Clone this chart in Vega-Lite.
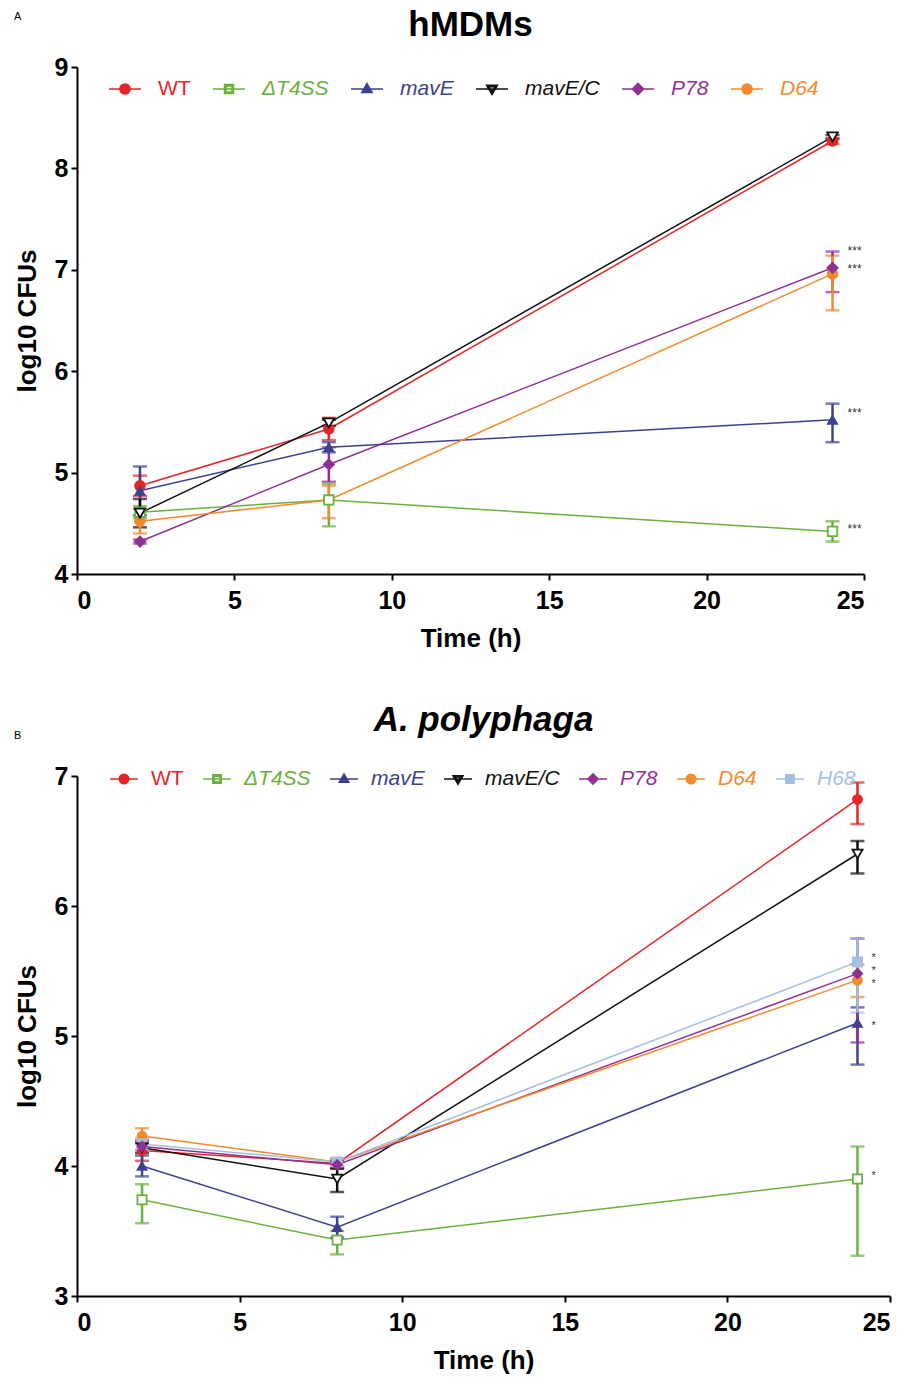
{
  "$schema": "https://vega.github.io/schema/vega-lite/v6.json",
  "background": "white",
  "padding": {"left": 14, "top": 8, "right": 8, "bottom": 2},
  "config": {
    "font": "Liberation Sans",
    "view": {"stroke": null},
    "axis": {
      "grid": false,
      "domainColor": "black",
      "domainWidth": 2,
      "tickColor": "black",
      "tickWidth": 2,
      "tickSize": 6,
      "labelFont": "Liberation Sans",
      "labelFontWeight": "bold",
      "labelFontSize": 25,
      "labelColor": "black",
      "labelPadding": 3,
      "titleFont": "Liberation Sans",
      "titleFontWeight": "bold",
      "titleFontSize": 26,
      "titleColor": "black"
    },
    "title": {"color": "black", "font": "Liberation Sans"}
  },
  "datasets": {
    "hmdm": [
      {"series": "WT", "t": 2, "y": 4.87, "lo": 4.77, "hi": 4.97},
      {"series": "WT", "t": 8, "y": 5.43, "lo": 5.32, "hi": 5.54},
      {"series": "WT", "t": 24, "y": 8.27, "lo": 8.24, "hi": 8.30},
      {"series": "ΔT4SS", "t": 2, "y": 4.61, "lo": 4.55, "hi": 4.67},
      {"series": "ΔT4SS", "t": 8, "y": 4.73, "lo": 4.47, "hi": 4.89},
      {"series": "ΔT4SS", "t": 24, "y": 4.42, "lo": 4.32, "hi": 4.52},
      {"series": "mavE", "t": 2, "y": 4.82, "lo": 4.58, "hi": 5.06},
      {"series": "mavE", "t": 8, "y": 5.25, "lo": 5.2, "hi": 5.3},
      {"series": "mavE", "t": 24, "y": 5.52, "lo": 5.30, "hi": 5.68},
      {"series": "mavE/C", "t": 2, "y": 4.6, "lo": 4.46, "hi": 4.74},
      {"series": "mavE/C", "t": 8, "y": 5.49, "lo": 5.46, "hi": 5.52},
      {"series": "mavE/C", "t": 24, "y": 8.31, "lo": 8.29, "hi": 8.33},
      {"series": "P78", "t": 2, "y": 4.32, "lo": 4.3, "hi": 4.34},
      {"series": "P78", "t": 8, "y": 5.08, "lo": 4.91, "hi": 5.25},
      {"series": "P78", "t": 24, "y": 7.02, "lo": 6.78, "hi": 7.18},
      {"series": "D64", "t": 2, "y": 4.52, "lo": 4.4, "hi": 4.64},
      {"series": "D64", "t": 8, "y": 4.73, "lo": 4.55, "hi": 4.87},
      {"series": "D64", "t": 24, "y": 6.96, "lo": 6.6, "hi": 7.14}
    ],
    "hmdmStars": [
      {"t": 24.7, "y": 7.19, "star": "***"},
      {"t": 24.7, "y": 7.01, "star": "***"},
      {"t": 24.7, "y": 5.59, "star": "***"},
      {"t": 24.7, "y": 4.44, "star": "***"}
    ],
    "amoeba": [
      {"series": "WT", "t": 2, "y": 4.12, "lo": 4.04, "hi": 4.2},
      {"series": "WT", "t": 8, "y": 4.02, "lo": 3.99, "hi": 4.05},
      {"series": "WT", "t": 24, "y": 6.82, "lo": 6.63, "hi": 6.95},
      {"series": "ΔT4SS", "t": 2, "y": 3.74, "lo": 3.56, "hi": 3.86},
      {"series": "ΔT4SS", "t": 8, "y": 3.43, "lo": 3.32, "hi": 3.5},
      {"series": "ΔT4SS", "t": 24, "y": 3.9, "lo": 3.31, "hi": 4.15},
      {"series": "mavE", "t": 2, "y": 4.0, "lo": 3.92, "hi": 4.08},
      {"series": "mavE", "t": 8, "y": 3.53, "lo": 3.45, "hi": 3.61},
      {"series": "mavE", "t": 24, "y": 5.1, "lo": 4.78, "hi": 5.22},
      {"series": "mavE/C", "t": 2, "y": 4.14, "lo": 4.1, "hi": 4.18},
      {"series": "mavE/C", "t": 8, "y": 3.9, "lo": 3.8, "hi": 3.98},
      {"series": "mavE/C", "t": 24, "y": 6.4, "lo": 6.25, "hi": 6.5},
      {"series": "P78", "t": 2, "y": 4.15, "lo": 4.12, "hi": 4.18},
      {"series": "P78", "t": 8, "y": 4.01, "lo": 3.98, "hi": 4.04},
      {"series": "P78", "t": 24, "y": 5.48, "lo": 4.95, "hi": 5.75},
      {"series": "D64", "t": 2, "y": 4.23, "lo": 4.17, "hi": 4.29},
      {"series": "D64", "t": 8, "y": 4.03, "lo": 4.0, "hi": 4.06},
      {"series": "D64", "t": 24, "y": 5.43, "lo": 5.3, "hi": 5.55},
      {"series": "H68", "t": 2, "y": 4.17, "lo": 4.12, "hi": 4.22},
      {"series": "H68", "t": 8, "y": 4.03, "lo": 4.0, "hi": 4.06},
      {"series": "H68", "t": 24, "y": 5.57, "lo": 5.18, "hi": 5.75}
    ],
    "amoebaStars": [
      {"t": 24.5, "y": 5.6, "star": "*"},
      {"t": 24.5, "y": 5.5, "star": "*"},
      {"t": 24.5, "y": 5.4, "star": "*"},
      {"t": 24.5, "y": 5.08, "star": "*"},
      {"t": 24.5, "y": 3.92, "star": "*"}
    ]
  },
  "spacing": 52,
  "vconcat": [
    {
      "title": {"text": "A", "anchor": "start", "fontSize": 11, "fontWeight": "normal", "offset": -14},
      "vconcat": [
        {
          "width": 787,
          "height": 507,
          "title": {"text": "hMDMs", "fontSize": 35, "fontWeight": "bold", "anchor": "middle", "offset": 12},
          "data": {"name": "hmdm"},
          "encoding": {
            "x": {"field": "t", "type": "quantitative", "scale": {"domain": [0, 25], "nice": false}, "axis": {"values": [0, 5, 10, 15, 20, 25], "title": "Time (h)", "labelPadding": 8, "titlePadding": 12}},
            "y": {"field": "y", "type": "quantitative", "scale": {"domain": [4, 9], "nice": false, "zero": false}, "axis": {"values": [4, 5, 6, 7, 8, 9], "format": "d", "title": "log10 CFUs", "titlePadding": 14}}
          },
          "layer": [
            {
              "mark": {"type": "line", "strokeWidth": 1.5},
              "encoding": {
                "color": {
                  "field": "series", "type": "nominal",
                  "scale": {"domain": ["WT", "ΔT4SS", "mavE", "mavE/C", "P78", "D64"], "range": ["#E3262A", "#6AB23F", "#3D418F", "#111111", "#8F3194", "#F28A2E"]},
                  "legend": {
                    "orient": "none", "legendX": 31, "legendY": 5, "direction": "horizontal", "title": null,
                    "symbolSize": 1024, "symbolStrokeWidth": 1.5, "symbolOpacity": 1, "labelFontSize": 21, "labelOffset": 16, "columnPadding": 19, "labelFont": "Liberation Sans",
                    "encode": {"labels": {"update": {
                      "fill": {"signal": "['#E3262A','#6AB23F','#3D418F','#111111','#8F3194','#F28A2E','#A5BFE0'][indexof(['WT','ΔT4SS','mavE','mavE/C','P78','D64','H68'], datum.value)]"},
                      "fontStyle": {"signal": "datum.value === 'WT' ? 'normal' : 'italic'"}
                    }}}
                  }
                }
              }
            },
            {
              "mark": {"type": "errorbar", "thickness": 2.5, "ticks": {"size": 14, "thickness": 2.5}},
              "encoding": {
                "y": {"field": "lo", "type": "quantitative", "title": "log10 CFUs"},
                "y2": {"field": "hi"},
                "color": {"field": "series", "type": "nominal", "legend": null}
              }
            },
            {
              "mark": {"type": "point", "opacity": 0, "size": 4},
              "encoding": {
                "shape": {"field": "series", "type": "nominal",
                  "scale": {"domain": ["WT", "ΔT4SS", "mavE", "mavE/C", "P78", "D64"], "range": [
                    "M-1,0H1M0.32,0A0.32,0.32,0,1,1,-0.32,0A0.32,0.32,0,1,1,0.32,0Z",
                    "M-1,0H1M-0.28,-0.28H0.28V0.28H-0.28ZM-0.18,-0.18V0.18H0.18V-0.18Z",
                    "M-1,0H1M0,-0.34L0.32,0.22H-0.32Z",
                    "M-1,0H1M-0.34,-0.23L0.34,-0.23L0,0.35ZM-0.19,-0.14L0,0.19L0.19,-0.14Z",
                    "M-1,0H1M0,-0.35L0.35,0L0,0.35L-0.35,0Z",
                    "M-1,0H1M0.32,0A0.32,0.32,0,1,1,-0.32,0A0.32,0.32,0,1,1,0.32,0Z"]},
                  "legend": null
                }
              }
            },
            {
              "transform": [{"filter": {"field": "series", "oneOf": ["WT", "D64"]}}],
              "mark": {"type": "point", "shape": "circle", "size": 100, "strokeWidth": 1.6, "opacity": 1},
              "encoding": {
                "stroke": {"field": "series", "type": "nominal", "scale": {"domain": ["WT", "ΔT4SS", "mavE", "mavE/C", "P78", "D64"], "range": ["#E3262A", "#6AB23F", "#3D418F", "#111111", "#8F3194", "#F28A2E"]}, "legend": null},
                "fill": {"field": "series", "type": "nominal", "scale": {"domain": ["WT", "ΔT4SS", "mavE", "mavE/C", "P78", "D64"], "range": ["#E3262A", "white", "#3D418F", "white", "#8F3194", "#F28A2E"]}, "legend": null}
              }
            },
            {
              "transform": [{"filter": {"field": "series", "oneOf": ["ΔT4SS"]}}],
              "mark": {"type": "point", "shape": "square", "size": 90, "strokeWidth": 1.8, "opacity": 1},
              "encoding": {
                "stroke": {"field": "series", "type": "nominal", "legend": null},
                "fill": {"field": "series", "type": "nominal", "legend": null}
              }
            },
            {
              "transform": [{"filter": {"field": "series", "oneOf": ["mavE"]}}],
              "mark": {"type": "point", "shape": "triangle-up", "size": 90, "strokeWidth": 1.6, "opacity": 1},
              "encoding": {
                "stroke": {"field": "series", "type": "nominal", "legend": null},
                "fill": {"field": "series", "type": "nominal", "legend": null}
              }
            },
            {
              "transform": [{"filter": {"field": "series", "oneOf": ["mavE/C"]}}],
              "mark": {"type": "point", "shape": "triangle-down", "size": 110, "strokeWidth": 1.8, "opacity": 1},
              "encoding": {
                "stroke": {"field": "series", "type": "nominal", "legend": null},
                "fill": {"field": "series", "type": "nominal", "legend": null}
              }
            },
            {
              "transform": [{"filter": {"field": "series", "oneOf": ["P78"]}}],
              "mark": {"type": "point", "shape": "diamond", "size": 110, "strokeWidth": 1.6, "opacity": 1},
              "encoding": {
                "stroke": {"field": "series", "type": "nominal", "legend": null},
                "fill": {"field": "series", "type": "nominal", "legend": null}
              }
            },
            {
              "data": {"name": "hmdmStars"},
              "mark": {"type": "text", "fontSize": 12, "align": "center", "baseline": "middle", "fill": "#333", "color": "#333"},
              "encoding": {
                "x": {"field": "t", "type": "quantitative"},
                "y": {"field": "y", "type": "quantitative"},
                "text": {"field": "star"}
              }
            }
          ]
        }
      ]
    },
    {
      "title": {"text": "B", "anchor": "start", "fontSize": 11, "fontWeight": "normal", "offset": -38},
      "vconcat": [
        {
          "width": 813,
          "height": 520,
          "title": {"text": "A. polyphaga", "fontSize": 35, "fontWeight": "bold", "fontStyle": "italic", "anchor": "middle", "offset": 26},
          "data": {"name": "amoeba"},
          "encoding": {
            "x": {"field": "t", "type": "quantitative", "scale": {"domain": [0, 25], "nice": false}, "axis": {"values": [0, 5, 10, 15, 20, 25], "title": "Time (h)", "labelPadding": 8, "titlePadding": 12}},
            "y": {"field": "y", "type": "quantitative", "scale": {"domain": [3, 7], "nice": false, "zero": false}, "axis": {"values": [3, 4, 5, 6, 7], "format": "d", "title": "log10 CFUs", "titlePadding": 14}}
          },
          "layer": [
            {
              "mark": {"type": "line", "strokeWidth": 1.5},
              "encoding": {
                "color": {
                  "field": "series", "type": "nominal",
                  "scale": {"domain": ["WT", "ΔT4SS", "mavE", "mavE/C", "P78", "D64", "H68"], "range": ["#E3262A", "#6AB23F", "#3D418F", "#111111", "#8F3194", "#F28A2E", "#A5BFE0"]},
                  "legend": {
                    "orient": "none", "legendX": 32, "legendY": -12, "direction": "horizontal", "title": null,
                    "symbolSize": 784, "symbolStrokeWidth": 1.5, "symbolOpacity": 1, "labelFontSize": 21, "labelOffset": 12, "columnPadding": 16, "labelFont": "Liberation Sans",
                    "encode": {"labels": {"update": {
                      "fill": {"signal": "['#E3262A','#6AB23F','#3D418F','#111111','#8F3194','#F28A2E','#A5BFE0'][indexof(['WT','ΔT4SS','mavE','mavE/C','P78','D64','H68'], datum.value)]"},
                      "fontStyle": {"signal": "datum.value === 'WT' ? 'normal' : 'italic'"}
                    }}}
                  }
                }
              }
            },
            {
              "mark": {"type": "errorbar", "thickness": 2.5, "ticks": {"size": 14, "thickness": 2.5}},
              "encoding": {
                "y": {"field": "lo", "type": "quantitative", "title": "log10 CFUs"},
                "y2": {"field": "hi"},
                "color": {"field": "series", "type": "nominal", "legend": null}
              }
            },
            {
              "mark": {"type": "point", "opacity": 0, "size": 4},
              "encoding": {
                "shape": {"field": "series", "type": "nominal",
                  "scale": {"domain": ["WT", "ΔT4SS", "mavE", "mavE/C", "P78", "D64", "H68"], "range": [
                    "M-1,0H1M0.34,0A0.34,0.34,0,1,1,-0.34,0A0.34,0.34,0,1,1,0.34,0Z",
                    "M-1,0H1M-0.3,-0.3H0.3V0.3H-0.3ZM-0.19,-0.19V0.19H0.19V-0.19Z",
                    "M-1,0H1M0,-0.36L0.34,0.23H-0.34Z",
                    "M-1,0H1M-0.36,-0.24L0.36,-0.24L0,0.37ZM-0.2,-0.15L0,0.2L0.2,-0.15Z",
                    "M-1,0H1M0,-0.37L0.37,0L0,0.37L-0.37,0Z",
                    "M-1,0H1M0.34,0A0.34,0.34,0,1,1,-0.34,0A0.34,0.34,0,1,1,0.34,0Z",
                    "M-1,0H1M-0.3,-0.3H0.3V0.3H-0.3Z"]},
                  "legend": null
                }
              }
            },
            {
              "transform": [{"filter": {"field": "series", "oneOf": ["WT", "D64"]}}],
              "mark": {"type": "point", "shape": "circle", "size": 85, "strokeWidth": 1.6, "opacity": 1},
              "encoding": {
                "stroke": {"field": "series", "type": "nominal", "scale": {"domain": ["WT", "ΔT4SS", "mavE", "mavE/C", "P78", "D64", "H68"], "range": ["#E3262A", "#6AB23F", "#3D418F", "#111111", "#8F3194", "#F28A2E", "#A5BFE0"]}, "legend": null},
                "fill": {"field": "series", "type": "nominal", "scale": {"domain": ["WT", "ΔT4SS", "mavE", "mavE/C", "P78", "D64", "H68"], "range": ["#E3262A", "white", "#3D418F", "white", "#8F3194", "#F28A2E", "#A5BFE0"]}, "legend": null}
              }
            },
            {
              "transform": [{"filter": {"field": "series", "oneOf": ["ΔT4SS", "H68"]}}],
              "mark": {"type": "point", "shape": "square", "size": 85, "strokeWidth": 1.8, "opacity": 1},
              "encoding": {
                "stroke": {"field": "series", "type": "nominal", "legend": null},
                "fill": {"field": "series", "type": "nominal", "legend": null}
              }
            },
            {
              "transform": [{"filter": {"field": "series", "oneOf": ["mavE"]}}],
              "mark": {"type": "point", "shape": "triangle-up", "size": 85, "strokeWidth": 1.6, "opacity": 1},
              "encoding": {
                "stroke": {"field": "series", "type": "nominal", "legend": null},
                "fill": {"field": "series", "type": "nominal", "legend": null}
              }
            },
            {
              "transform": [{"filter": {"field": "series", "oneOf": ["mavE/C"]}}],
              "mark": {"type": "point", "shape": "triangle-down", "size": 100, "strokeWidth": 1.8, "opacity": 1},
              "encoding": {
                "stroke": {"field": "series", "type": "nominal", "legend": null},
                "fill": {"field": "series", "type": "nominal", "legend": null}
              }
            },
            {
              "transform": [{"filter": {"field": "series", "oneOf": ["P78"]}}],
              "mark": {"type": "point", "shape": "diamond", "size": 95, "strokeWidth": 1.6, "opacity": 1},
              "encoding": {
                "stroke": {"field": "series", "type": "nominal", "legend": null},
                "fill": {"field": "series", "type": "nominal", "legend": null}
              }
            },
            {
              "data": {"name": "amoebaStars"},
              "mark": {"type": "text", "fontSize": 11, "align": "center", "baseline": "middle", "fill": "#333", "color": "#333"},
              "encoding": {
                "x": {"field": "t", "type": "quantitative"},
                "y": {"field": "y", "type": "quantitative"},
                "text": {"field": "star"}
              }
            }
          ]
        }
      ]
    }
  ],
  "resolve": {"scale": {"color": "independent", "shape": "independent", "fill": "independent", "stroke": "independent", "y": "independent", "x": "independent"}, "legend": {"color": "independent", "shape": "independent", "fill": "independent", "stroke": "independent"}}
}
